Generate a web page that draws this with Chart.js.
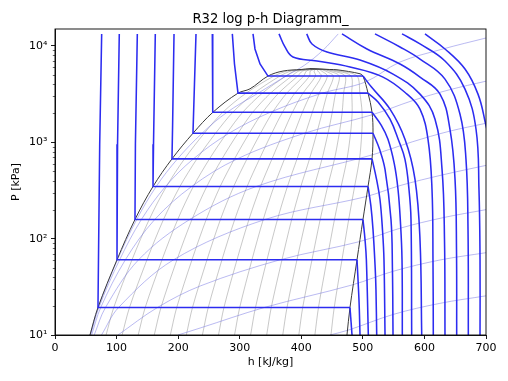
<!DOCTYPE html>
<html><head><meta charset="utf-8">
<script src="https://cdn.jsdelivr.net/npm/chart.js@4.4.0/dist/chart.umd.min.js"></script>
<style>html,body{margin:0;padding:0;background:#fff}canvas{display:block}</style>
</head><body>
<canvas id="c" width="508" height="381" style="width:508px;height:381px"></canvas>
<script>
// ---- Saturation dome (h [kJ/kg], p [kPa]) ----
const domeH = [56.8,69.8,100.7,129.9,159.2,190.0,224.1,256.6,297.2,316.7,345.9,370.3,399.7,414.2,446.2,458.0,495.4,500.2,508.4,514.9,516.5,514.9,508.4,500.2,490.5,479.1,474.2];
const domeP = [10,19.3,60.4,158,348,673,1241,2054,3238,3589,4870,5491,5700,5801,5700,5662,5147,4870,3238,2054,1241,673,348,158,60.4,19.3,10];

// ---- Quality lines (h at shared pressure levels qP) ----
const qP = [10,19.3,60.4,158,348,673,1241,2054,3238,4870,5500,5700,5801];
const q1  = [83.0,95.4,125.1,153.0,181.0,210.3,242.4,272.7,310.4,355.5,377.7,402.6,414.2];
const q2  = [109.0,121.0,149.4,176.2,202.9,230.6,260.7,288.9,323.6,365.2,383.9,405.5,414.2];
const q3  = [135.1,146.5,173.8,199.3,224.7,250.9,278.9,305.0,336.8,374.8,390.0,408.4,414.2];
const q4  = [161.2,172.1,198.1,222.5,246.5,271.2,297.2,321.2,350.0,384.5,396.1,411.3,414.2];
const q5  = [187.3,197.7,222.5,245.6,268.3,291.5,315.5,337.3,363.2,394.1,402.2,414.2,414.2];
const q6  = [213.3,223.3,246.9,268.7,290.2,311.9,333.8,353.4,376.4,403.8,408.4,417.1,414.2];
const q7  = [239.4,248.9,271.2,291.9,312.0,332.2,352.0,369.6,389.6,413.4,414.5,420.0,414.2];
const q8  = [265.5,274.4,295.6,315.0,333.8,352.5,370.3,385.7,402.8,423.1,420.6,422.9,414.2];
const q9  = [291.6,300.0,319.9,338.2,355.6,372.8,388.6,401.9,416.0,432.7,426.7,425.8,414.2];
const q10 = [317.7,325.6,344.3,361.3,377.5,393.1,406.9,418.0,429.2,442.3,432.9,428.8,414.2];
const q11 = [343.8,351.2,368.7,384.4,399.3,413.4,425.1,434.1,442.4,452.0,439.0,431.7,414.2];
const q12 = [369.9,376.8,393.0,407.6,421.1,433.7,443.4,450.3,455.6,461.6,445.1,434.6,414.2];
const q13 = [396.0,402.3,417.4,430.7,442.9,454.0,461.7,466.4,468.8,471.3,451.2,437.5,414.2];
const q14 = [422.1,427.9,441.7,453.9,464.8,474.3,480.0,482.6,482.0,480.9,457.4,440.4,414.2];
const q15 = [448.2,453.5,466.1,477.0,486.6,494.6,498.2,498.7,495.2,490.6,463.5,443.3,414.2];

// ---- Isotherms ([h, p] pairs) ----
const iso1  = [[75.8,13335],[72.6,953],[69.8,19.3],[479.1,19.3],[482.4,10]];
const iso2  = [[104.4,13335],[101.6,953],[100.7,60.4],[490.5,60.4],[493.7,23.1],[495.4,10]];
const iso3  = [[133.7,13335],[130.6,953],[129.9,158],[500.2,158],[503.5,97.6],[505.7,60.4],[508.9,10]];
const iso4  = [[162.9,13335],[160.0,953],[159.2,348],[508.4,348],[513.0,220],[516.5,124],[520.0,50],[521.3,29.4],[522.5,10]];
const iso5  = [[193.3,13335],[191.0,1500],[190.0,673],[514.9,673],[522.0,420],[527.8,255],[532.0,120],[534.3,60.4],[536.0,10]];
const iso6  = [[229.0,13335],[226.5,4000],[224.1,1241],[516.5,1241],[527.0,850],[536.0,523],[545.7,158],[548.0,50],[549.0,10]];
const iso7  = [[255.5,13335],[255.8,5000],[256.6,2054],[514.9,2054],[530.0,1500],[540.8,1075],[551.0,600],[557.1,324],[561.0,150],[563.6,60.4],[564.1,10]];
const iso8  = [[288.0,13335],[291.5,6494],[297.2,3238],[508.4,3238],[525.0,2600],[544.1,1736],[558.0,1050],[568.4,665],[575.0,320],[578.2,158],[579.3,10]];
const iso9  = [[321.6,13335],[324.8,9306],[333.0,6494],[345.9,4870],[500.2,4870],[514.0,3741],[544.1,2207],[568.4,1075],[584.7,412],[592.8,97.6],[595.6,10]];
const iso10 = [[363.8,13335],[373.5,9763],[386.5,7683],[425.5,6980],[479.1,6043],[532.7,4753],[571.7,3162],[592.8,2207],[605.8,1075],[612.3,324],[613.9,60.4],[614.4,10]];
const iso11 = [[408.8,13335],[417.4,10491],[441.8,8660],[495.4,7145],[549.0,5109],[592.8,3162],[617.2,1736],[628.6,523],[632.6,97.6],[633.4,10]];
const iso12 = [[466.1,13335],[506.7,9306],[560.3,6494],[592.8,4753],[625.3,3162],[641.5,1366],[649.7,412],[652.1,76.8],[652.4,10]];
const iso13 = [[519.7,13335],[560.3,9763],[592.8,7319],[633.4,4530],[657.8,1957],[667.5,665],[670.8,124],[671.3,10]];
const iso14 = [[563.6,13335],[592.8,10491],[633.4,6980],[665.9,3565],[683.8,1366],[688.6,324],[690.3,60.4],[690.3,10]];
const iso15 = [[600.9,13335],[633.4,9306],[665.9,5760],[687.0,3162],[698.4,1655],[706.6,845],[708.0,100],[708.0,10]];

// ---- Isochores ([h, p] pairs) ----
const rhoF = [[446.6,10],[477.5,11.3],[550,16.4],[625,21.3],[700,25.5]];
const rhoE = [[199.8,10],[235.5,11.8],[340,19.3],[482,33],[550,46],[625,60],[700,71.5]];
const rhoD = [[102.3,10],[166.4,19.3],[236.6,32.4],[365.8,60.4],[494,93],[560,128],[630,165],[700,200]];
const rhoA = [[75.5,10],[103.3,19.3],[192.7,60.4],[341,158],[505,273],[560,355],[630,460],[700,576]];
const rhoB = [[63.7,10],[82,19.3],[135.8,60.4],[218.8,158],[326.8,348],[515,740],[580,1010],[640,1300],[700,1577]];
const rhoC = [[59.5,10],[74.3,19.3],[114.3,60.4],[162,158],[222,348],[296,673],[405,1241],[515,1930],[580,2700],[640,3500],[700,4310]];
const rhoG = [[57.8,10],[71.3,19.3],[105,60.4],[140.3,158],[179.5,348],[224.8,673],[282.6,1241],[350,2054],[434,3238],[503,4200],[560,6800],[630,9300],[700,12100]];
const rhoH = [[57,10],[70,19.3],[101.5,60.4],[132.7,158],[164.4,348],[199,673],[238.8,1241],[279.6,2054],[330,3238],[375,4870],[405,6300],[435,9000],[460,13335]];

// ---- Axis ticks ----
const yTickValues = [10,20,30,40,50,60,70,80,90,100,200,300,400,500,600,700,800,900,1000,2000,3000,4000,5000,6000,7000,8000,9000,10000];
const yMajorLabels = {10:'10¹',100:'10²',1000:'10³',10000:'10⁴'};

const qualityLines = [q1,q2,q3,q4,q5,q6,q7,q8,q9,q10,q11,q12,q13,q14,q15];
const isotherms = [iso1,iso2,iso3,iso4,iso5,iso6,iso7,iso8,iso9,iso10,iso11,iso12,iso13,iso14,iso15];
const isochores = [rhoF,rhoE,rhoD,rhoA,rhoB,rhoC,rhoG,rhoH];

const pairs = a => a.map(([h,p]) => ({x:h, y:p}));
const datasets = [];
const base = {showLine:true, pointRadius:0, pointHoverRadius:0, fill:false};

qualityLines.forEach(q => datasets.push({...base, data:q.map((h,i)=>({x:h,y:qP[i]})), borderColor:'rgba(70,70,70,0.5)', borderWidth:0.6, tension:0.3, order:4}));
isochores.forEach(r => datasets.push({...base, data:pairs(r), borderColor:'rgba(110,110,225,0.6)', borderWidth:0.8, tension:0.35, order:3}));
datasets.push({...base, data:domeH.map((h,i)=>({x:h,y:domeP[i]})), borderColor:'#3a3a3a', borderWidth:1, tension:0.35, order:2});
const blue = '#2c2cf0';
isotherms.forEach(t => {
  let k = -1;
  for (let i = 0; i < t.length - 1; i++) { if (t[i][1] === t[i+1][1]) { k = i; break; } }
  if (k >= 0) {
    datasets.push({...base, data:pairs(t.slice(0,k+2)), borderColor:blue, borderWidth:1.55, tension:0, order:1});
    datasets.push({...base, data:pairs(t.slice(k+1)), borderColor:blue, borderWidth:1.55, tension:0.4, order:1});
  } else {
    datasets.push({...base, data:pairs(t), borderColor:blue, borderWidth:1.55, tension:0.4, order:1});
  }
});

const framePlugin = {
  id:'frame',
  afterDraw(chart){
    const {ctx, chartArea:a} = chart;
    const y = chart.scales.y;
    ctx.save();
    ctx.strokeStyle = '#000';
    ctx.lineWidth = 0.6;
    yTickValues.forEach(v => {
      if (yMajorLabels[v]) return;
      const py = Math.round(y.getPixelForValue(v)) + 0.5;
      ctx.beginPath(); ctx.moveTo(a.left - 2.2, py); ctx.lineTo(a.left, py); ctx.stroke();
    });
    ctx.lineWidth = 0.9;
    ctx.strokeRect(a.left, a.top, a.right - a.left, a.bottom - a.top);
    ctx.restore();
  }
};

const font11 = {family:'DejaVu Sans', size:11};
new Chart(document.getElementById('c'), {
  type:'scatter',
  data:{datasets},
  plugins:[framePlugin],
  options:{
    responsive:false, animation:false, devicePixelRatio:1,
    layout:{padding:{left:0, right:22, top:0, bottom:0}},
    plugins:{
      legend:{display:false}, tooltip:{enabled:false},
      title:{display:true, text:'R32 log p-h Diagramm_', fullSize:false, color:'#000',
        font:{family:'DejaVu Sans', size:13.2, weight:'normal'}, padding:{top:11.5, bottom:1.66}}
    },
    scales:{
      x:{type:'linear', min:0, max:700,
        ticks:{stepSize:100, color:'#000', font:font11, padding:3, maxRotation:0},
        grid:{drawOnChartArea:false, tickLength:4, tickColor:'#000', tickWidth:0.9},
        border:{color:'#000', width:0.9},
        title:{display:true, text:'h [kJ/kg]', color:'#000', font:font11, padding:{top:0, bottom:12.5}},
        afterFit(s){ s.height = 46; }
      },
      y:{type:'logarithmic', min:10, max:15000,
        afterBuildTicks(s){ s.ticks = yTickValues.map(v => ({value:v})); },
        ticks:{autoSkip:false, color:'#000', font:font11, padding:3.5, callback:(v)=>yMajorLabels[v] || ''},
        grid:{drawOnChartArea:false, tickLength:4, tickWidth:0.9,
          tickColor:(c)=> (c.tick && yMajorLabels[c.tick.value]) ? '#000' : 'rgba(0,0,0,0)'},
        border:{color:'#000', width:0.9},
        title:{display:true, text:'P [kPa]', color:'#000', font:font11, padding:{top:9.4, bottom:0}},
        afterFit(s){ s.width = 55; }
      }
    }
  }
});
</script>
</body></html>
